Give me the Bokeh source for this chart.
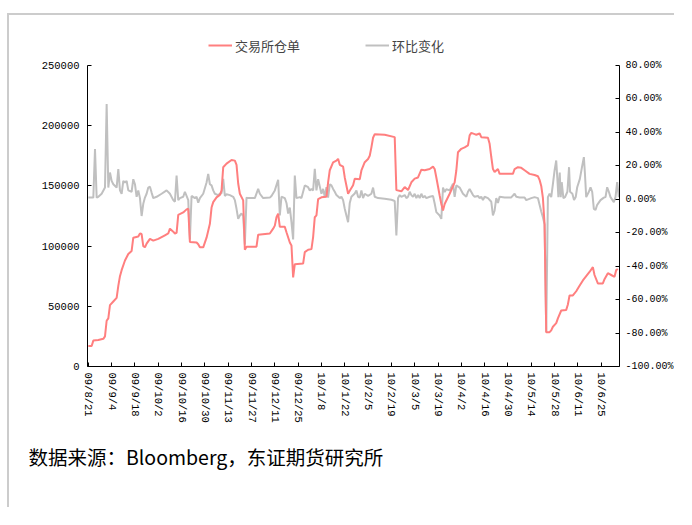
from bokeh.plotting import figure
from bokeh.layouts import column, row
from bokeh.models import (Range1d, LinearAxis, FixedTicker, PrintfTickFormatter,
                          Legend, LegendItem, Title, Spacer)
from bokeh.embed import file_html
from bokeh.resources import INLINE

# ---- data (x = days since 2009-08-21) ----
tick_days = [0, 14, 28, 42, 56, 70, 84, 98, 112, 126, 140, 154, 168, 182, 196, 210,
             224, 238, 252, 266, 280, 294, 308]
tick_labels = ["09/8/21", "09/9/4", "09/9/18", "09/10/2", "09/10/16", "09/10/30",
               "09/11/13", "09/11/27", "09/12/11", "09/12/25", "10/1/8", "10/1/22",
               "10/2/5", "10/2/19", "10/3/5", "10/3/19", "10/4/2", "10/4/16",
               "10/4/30", "10/5/14", "10/5/28", "10/6/11", "10/6/25"]
left_ticks = [0, 50000, 100000, 150000, 200000, 250000]
right_ticks = [-100, -80, -60, -40, -20, 0, 20, 40, 60, 80]

warrant_day = [0, 2, 3, 6, 9, 10, 11, 12, 13, 15, 17, 18, 19, 20, 22, 24, 26, 27, 30, 31,
               32, 33, 34, 35, 37, 39, 42, 46, 48, 49, 51, 52, 53, 54, 57, 59, 60, 61, 65, 66,
               67, 69, 71, 73, 74, 75, 77, 79, 80, 81, 83, 86, 88, 89, 90, 91, 93, 94, 95, 101,
               102, 109, 111, 112, 113, 114, 115, 118, 119, 121, 122, 123, 124, 129, 130, 132,
               134, 135, 136, 137, 138, 140, 143, 144, 145, 147, 149, 150, 151, 153, 154, 156,
               157, 159, 160, 163, 164, 166, 168, 169, 170, 171, 172, 178, 184, 185, 188, 190,
               192, 194, 196, 198, 200, 202, 205, 207, 208, 209, 211, 212, 213, 214, 217, 220,
               221, 222, 224, 226, 228, 229, 230, 232, 233, 235, 236, 240, 241, 242, 243, 244,
               246, 247, 255, 256, 258, 260, 262, 265, 268, 270, 271, 272, 273, 274, 275, 277,
               278, 279, 281, 282, 284, 287, 288, 289, 291, 293, 295, 297, 299, 301, 303, 304,
               306, 309, 310, 312, 314, 316, 317, 318]
warrant_val = [17000, 17000, 21500, 22000, 23000, 25000, 38000, 40000, 51000, 54000, 57000,
               67000, 75000, 80000, 88000, 93500, 96000, 107000, 108000, 110500, 110000,
               100000, 99000, 102000, 106000, 104500, 106000, 109000, 110500, 114500, 112000,
               110500, 111000, 126000, 128000, 130500, 131000, 103500, 103000, 101500, 99000,
               99000, 107000, 118500, 132000, 136500, 140500, 142500, 146000, 165500, 168500,
               171500, 171000, 167500, 152000, 143500, 138000, 97000, 99500, 99500, 109500,
               110500, 114500, 117000, 124000, 127000, 116000, 116000, 111500, 103000, 100500,
               74000, 85000, 85500, 95000, 97000, 97500, 107500, 124000, 125500, 139000, 140500,
               141000, 153000, 163000, 169500, 171000, 172500, 167500, 166000, 157000, 143500,
               146000, 150500, 156000, 155500, 162800, 169700, 172400, 175000, 182000, 190000,
               193000, 192500, 190500, 146500, 145500, 149000, 146500, 153000, 156000, 157000,
               163500, 163000, 164000, 166000, 164000, 157000, 142000, 135000, 129500, 135000,
               143500, 153000, 162800, 178000, 180800, 182000, 183600, 192000, 194000, 193000,
               192500, 193500, 190500, 190000, 185000, 174000, 164000, 161500, 164000, 160000,
               160000, 164000, 165500, 165000, 163000, 160000, 159000, 158000, 155000, 150000,
               140000, 118000, 28500, 28500, 30000, 33000, 36000, 40000, 46500, 47000, 51500,
               59000, 59000, 62500, 67000, 71500, 75000, 78500, 82500, 76000, 69000, 69000,
               72500, 77500, 76000, 74500, 80000, 81000]

change_day = [0, 2, 3, 4, 5, 6, 8, 10, 11, 12, 13, 14, 15, 17, 18, 19, 20, 21, 22, 23, 24, 26,
              27, 28, 29, 30, 31, 32, 33, 34, 35, 36, 37, 38, 39, 41, 44, 47, 49, 51, 52, 53,
              54, 55, 57, 58, 60, 61, 62, 64, 65, 66, 67, 69, 71, 72, 73, 74, 75, 76, 78, 79,
              80, 81, 82, 83, 85, 87, 88, 89, 90, 91, 92, 93, 94, 95, 96, 100, 102, 103, 105,
              109, 110, 112, 114, 115, 116, 118, 119, 120, 121, 122, 123, 124, 125, 127, 128,
              130, 132, 133, 134, 135, 136, 137, 138, 140, 141, 142, 143, 144, 145, 146, 147,
              148, 149, 151, 152, 153, 154, 155, 156, 157, 158, 160, 161, 162, 163, 164, 165,
              166, 168, 170, 171, 172, 174, 178, 182, 184, 185, 186, 187, 188, 190, 191, 192,
              193, 194, 195, 196, 197, 198, 199, 200, 201, 202, 203, 205, 207, 208, 209, 211,
              212, 213, 214, 215, 217, 219, 220, 221, 223, 225, 227, 228, 229, 231, 232, 234,
              235, 236, 237, 238, 240, 242, 243, 244, 245, 246, 247, 250, 254, 256, 257, 259,
              262, 263, 266, 268, 270, 271, 272, 273, 274, 275, 276, 277, 278, 279, 280, 281,
              281.7, 282.3, 283.1, 283.7, 284.3, 285.3, 286.3, 287.7, 288.7, 289.3, 290.7,
              291.7, 292.7, 293.6, 295.2, 296.6, 297.6, 298.2, 299, 300.6, 301.6, 302.6, 303.6,
              304.6, 305.6, 307.6, 309.6, 310.6, 311.6, 312.6, 313.6, 315.6, 316.6, 317.6, 318.6]
change_pct = [1, 1, 1, 30, 1, 1.5, 3.3, 7, 57, 7, 16, 11, 9, 7, 18, 5.3, 3.3, 11, 10, 11, 5.3,
              4.5, 12, 9, 1.5, 5.3, 0.7, -10, -2.7, 1, 3.3, 7, 7.5, 4, 0.7, 1.5, 3.3, 5.3, 3.3,
              -0.5, -1.5, 14.2, -0.5, 0.7, 1.5, 4.5, -0.5, -24, 2, 0.7, 1.5, -2, 0.7, 3.3, 10,
              15.2, 9, 8.3, 5.3, 3.3, 2.5, 3.3, 3.6, 12.2, 2, 3, 2.5, 1.5, -0.5, -5.7, -11.7,
              -9.7, -8.5, -10, -27, 1, 0.7, 0.7, 6.2, 3.3, 0.7, 1, 2, 5.3, 11.7, -9.7, 1.5, 0.7,
              -2.2, -8.5, -5, -13.7, -24, 14.2, 0.7, 1.3, 0.7, 8.3, 7.2, 5.3, 6.2, 5.3, 18.2,
              5.3, 12, 3.3, 6.2, 1.5, 7.2, 1, 9, 8.3, 6.2, 4.5, 2.5, 0.7, 1.5, -0.5, -5.7, -9.7,
              -13.7, -2.2, 1.5, 3.5, 5.3, 1.5, 1, 5.3, 0.7, 3.3, 2, 3.3, 7, 1.5, 0.7, 0.3, -0.3,
              -1, -21.7, 0.7, 2.5, 1.5, 2.5, 0.7, 1.5, 4.5, 2.5, 1.5, 3.3, 0.7, 2.5, 0.7, 3.3,
              1, 2, 0.7, 1.5, 2, -2.5, -7.7, -9.7, -11.7, 7, 4.3, 6, 5.3, 9.3, 1.5, 8.3, 7, 3.3,
              1.5, 4.5, 6.2, 2.5, 1.5, 2, 0.7, 1.5, -0.5, 1.5, 0.7, -1.5, -9.7, -6.7, 0.7, -2.2,
              1.5, 1.1, 1.1, 3.3, 1.5, 1.1, 1.1, -0.5, 0.7, 1.3, 0.7, -3.3, -7.3, -10.7, -15,
              -79.5, 1.3, 3.3, 1.3, 9, 17.2, 23.2, 12, 1.3, 16, 1.3, 10.2, 0.7, 1.3, 4.5, 19.2,
              4.5, 3.3, -0.5, 1.3, 7.2, 12.2, 20, 25.2, 16, 1.3, 4.5, 7.2, 4.5, -5.7, -6.3,
              -3.3, -0.5, 1, 1.3, 7.2, 4.5, 1.3, -1.7, 1.3, 10.2, 1.3]

assert len(warrant_day) == len(warrant_val)
assert len(change_day) == len(change_pct)

TICK_FONT = "Liberation Mono"
CJK_FONT = "Noto Sans CJK SC"

# plot frame: 301 px of value axis, plus 40 px of headroom that holds the legend
AXIS_PX, FRAME_PX = 301, 341
left_top = left_ticks[-1] * FRAME_PX / AXIS_PX
right_top = right_ticks[0] + (right_ticks[-1] - right_ticks[0]) * FRAME_PX / AXIS_PX

p = figure(width=667, height=494, output_backend="svg", toolbar_location=None,
           x_range=Range1d(-0.5, 319), y_range=Range1d(0, left_top),
           min_border_left=78, min_border_right=55, min_border_top=10, min_border_bottom=143)
p.styles = {"border-top": "2px solid #cccccc", "border-left": "2px solid #cccccc"}
p.extra_y_ranges = {"pct": Range1d(right_ticks[0], right_top)}
p.grid.visible = False
p.outline_line_color = None
p.background_fill_color = "white"
p.border_fill_color = "white"

r_change = p.line(change_day, change_pct, y_range_name="pct", line_color="#c0c0c0",
                  line_width=2)
r_warrant = p.line(warrant_day, warrant_val, line_color="#ff7f7f", line_width=2)

xa = p.xaxis[0]
xa.ticker = FixedTicker(ticks=tick_days)
xa.major_label_overrides = {d: lab for d, lab in zip(tick_days, tick_labels)}
xa.major_label_orientation = "vertical"
xa.major_label_standoff = 6

ya = p.yaxis[0]
ya.ticker = FixedTicker(ticks=left_ticks)
ya.formatter = PrintfTickFormatter(format="%d")
ya.bounds = (left_ticks[0], left_ticks[-1])
ya.major_label_standoff = 8

ra = LinearAxis(y_range_name="pct", ticker=FixedTicker(ticks=right_ticks),
                formatter=PrintfTickFormatter(format="%.2f%%"),
                bounds=(right_ticks[0], right_ticks[-1]))
ra.major_label_standoff = 6
p.add_layout(ra, "right")

for ax in (xa, ya, ra):
    ax.axis_line_color = "black"
    ax.axis_line_width = 1
    ax.major_tick_line_color = "black"
    ax.major_tick_in = 4
    ax.major_tick_out = 0
    ax.minor_tick_line_color = None
    ax.major_label_text_font = TICK_FONT
    ax.major_label_text_font_size = "10.5px"
    ax.major_label_text_color = "black"
ra.major_label_text_font_size = "10px"

legend = Legend(items=[LegendItem(label="交易所仓单", renderers=[r_warrant]),
                       LegendItem(label="环比变化", renderers=[r_change])],
                orientation="horizontal", location=(121, 311),
                border_line_color=None, background_fill_alpha=0,
                label_text_font=CJK_FONT, label_text_font_size="13px",
                glyph_width=24, label_standoff=3, spacing=65, padding=0, margin=0)
p.add_layout(legend)

src = Title(text="数据来源：Bloomberg，东证期货研究所", align="left", offset=-59,
            text_font=CJK_FONT, text_font_size="19.5px", text_color="black",
            text_font_style="normal", standoff=29)
p.add_layout(src, "below")

layout = column(Spacer(height=13), row(Spacer(width=7), p))

open("out.html", "w").write(file_html(layout, INLINE))
